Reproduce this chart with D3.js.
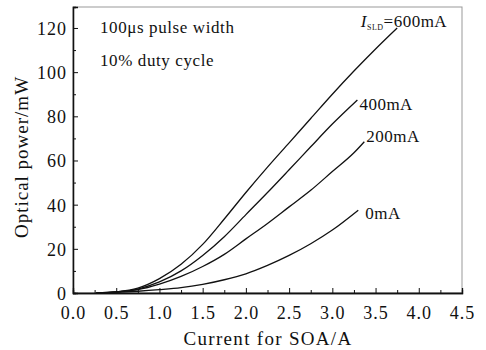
<!DOCTYPE html>
<html>
<head>
<meta charset="utf-8">
<script src="https://cdn.jsdelivr.net/npm/d3@7"></script>
<style>
  body { margin: 0; background: #fff; }
  text { font-family: "Liberation Serif", "DejaVu Serif", serif; fill: #111; }
</style>
</head>
<body>
<script>
// Chart size matches the window
const width = 486;
const height = 350;
const margin = { top: 7, right: 24, bottom: 57, left: 73 };

// SOA current (A) and optical power (mW) for each SLD current
const current600 = [0.27, 0.5, 0.75, 1.0, 1.25, 1.5, 1.75, 2.0, 2.25, 2.5, 2.75, 3.0, 3.25, 3.5, 3.75];
const power600   = [0, 0.5, 2.2, 6.5, 13, 22, 33.5, 45.5, 57, 68, 79, 90, 100.5, 110.5, 120];

const current400 = [0.27, 0.5, 0.75, 1.0, 1.25, 1.5, 1.75, 2.0, 2.25, 2.5, 2.75, 3.0, 3.29];
const power400   = [0, 0.5, 1.8, 5, 10, 17, 25.5, 35.5, 45.5, 55.8, 66.2, 76.5, 87.4];

const current200 = [0.27, 0.5, 0.75, 1.0, 1.25, 1.5, 1.75, 2.0, 2.25, 2.5, 2.75, 3.0, 3.25, 3.37];
const power200   = [0, 0.5, 1.5, 4, 7.5, 12, 17.5, 24.5, 31.5, 39, 46.5, 55, 63.5, 68.5];

const current0 = [0.27, 0.5, 0.75, 1.0, 1.25, 1.5, 1.75, 2.0, 2.25, 2.5, 2.75, 3.0, 3.3];
const power0   = [0, 0.3, 0.8, 1.5, 2.4, 3.9, 6, 8.7, 12.5, 17, 22.3, 28.5, 37.5];

const xTicks = [0.0, 0.5, 1.0, 1.5, 2.0, 2.5, 3.0, 3.5, 4.0, 4.5];
const yTicks = [0, 20, 40, 60, 80, 100, 120];

const series = [
  { name: "600mA", xs: current600, ys: power600, dx: -60, dy: -1 },
  { name: "400mA", xs: current400, ys: power400, dx: 2, dy: 10 },
  { name: "200mA", xs: current200, ys: power200, dx: 2, dy: 0 },
  { name: "0mA",   xs: current0,   ys: power0,   dx: 7, dy: 9 }
];

const svg = d3.select("body")
              .append("svg")
              .attr("width", width)
              .attr("height", height);

const x = d3.scaleLinear().domain([0, 4.5]).range([margin.left, width - margin.right]);
const y = d3.scaleLinear().domain([0, 129.5]).range([height - margin.bottom, margin.top]);

// Frame: light top/right border
svg.append("rect")
   .attr("x", margin.left)
   .attr("y", margin.top)
   .attr("width", width - margin.right - margin.left)
   .attr("height", height - margin.bottom - margin.top)
   .attr("fill", "none")
   .attr("stroke", "#999")
   .attr("stroke-width", 1);

// Minor ticks (inside)
const xMinor = d3.range(0.25, 4.5, 0.5);
const yMinor = d3.range(10, 130, 20);

const bottom = svg.append("g")
   .attr("transform", `translate(0,${height - margin.bottom})`);
bottom.call(d3.axisBottom(x).tickValues(xMinor).tickSize(-3).tickFormat(""));
bottom.append("g")
   .call(d3.axisBottom(x).tickValues(xTicks).tickSize(-5).tickPadding(13)
           .tickFormat(d3.format(".1f")));

const left = svg.append("g")
   .attr("transform", `translate(${margin.left},0)`);
left.call(d3.axisLeft(y).tickValues(yMinor).tickSize(-3).tickFormat(""));
left.append("g")
   .call(d3.axisLeft(y).tickValues(yTicks).tickSize(-5).tickPadding(6));

svg.selectAll(".domain").attr("stroke", "#111").attr("stroke-width", 1.3);
svg.selectAll(".tick line").attr("stroke", "#111");
svg.selectAll(".tick text")
   .style("font-family", "'Liberation Serif', serif")
   .style("font-size", "18px")
   .style("letter-spacing", "1px")
   .attr("fill", "#111");
left.selectAll(".tick text").attr("dy", "0.36em");

// Curves
const line = d3.line()
  .x(d => x(d[0]))
  .y(d => y(d[1]))
  .curve(d3.curveMonotoneX);

series.forEach(s => {
  const pts = s.xs.map((v, i) => [v, s.ys[i]]);
  svg.append("path")
     .datum(pts)
     .attr("d", line)
     .attr("fill", "none")
     .attr("stroke", "#111")
     .attr("stroke-width", 1.3);

  const last = pts[pts.length - 1];
  const t = svg.append("text")
     .attr("x", x(last[0]) + s.dx)
     .attr("y", y(last[1]) + s.dy)
     .style("font-size", "17px")
     .style("letter-spacing", "0.5px");
  if (s.name === "600mA") {
    t.attr("text-anchor", "end").attr("x", x(last[0]) + 50);
    t.append("tspan").style("font-style", "italic").text("I");
    t.append("tspan").attr("dy", 3).style("font-size", "8px").text("SLD");
    t.append("tspan").attr("dy", -3).text("=600mA");
  } else {
    t.text(s.name);
  }
});

// Annotations
svg.append("text").attr("x", 100).attr("y", 33)
   .style("font-size", "17px").style("letter-spacing", "0.6px")
   .text("100μs pulse width");
svg.append("text").attr("x", 100).attr("y", 66)
   .style("font-size", "17px").style("letter-spacing", "0.6px")
   .text("10% duty cycle");

// Axis titles
svg.append("text")
   .attr("x", 268)
   .attr("y", 345)
   .attr("text-anchor", "middle")
   .style("font-size", "19px").style("letter-spacing", "1.3px")
   .text("Current for SOA/A");

svg.append("text")
   .attr("transform", "translate(28,157) rotate(-90)")
   .attr("text-anchor", "middle")
   .style("font-size", "19px").style("letter-spacing", "1px")
   .text("Optical power/mW");
</script>
</body>
</html>
